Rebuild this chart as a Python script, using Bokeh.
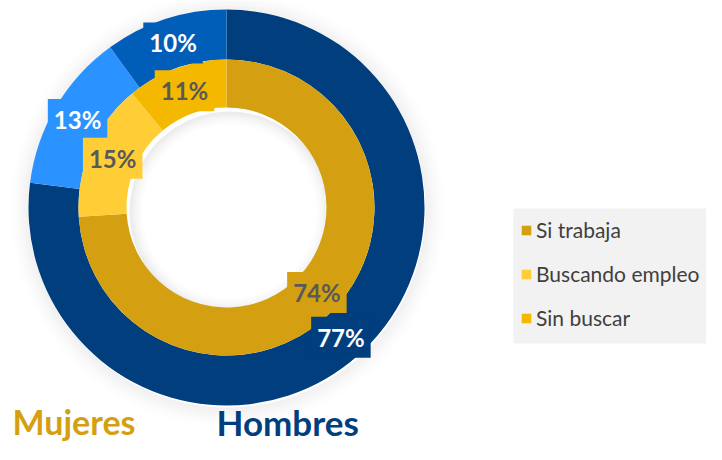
import math
from bokeh.plotting import figure
from bokeh.models import Range1d, Label, Legend, LegendItem, ColumnDataSource
from bokeh.embed import file_html
from bokeh.resources import INLINE

categories = ["Si trabaja", "Buscando empleo", "Sin buscar"]
mujeres = [74, 15, 11]
hombres = [77, 13, 10]
mujeres_colors = ["#D4A012", "#FFCD36", "#F5B800"]
hombres_colors = ["#003E7E", "#2A93FF", "#005EB8"]
mujeres_text = ["#595959", "#595959", "#595959"]
hombres_text = ["#FFFFFF", "#FFFFFF", "#FFFFFF"]

W, H = 706, 444
FONT = "Lato"

# data units = screen pixels (y measured upward from 460)
p = figure(width=W, height=H, output_backend="svg", toolbar_location=None,
           x_range=Range1d(0, 706), y_range=Range1d(16, 460),
           x_axis_location=None, y_axis_location=None, min_border=0)
p.outline_line_color = None
p.grid.visible = False
p.background_fill_color = "white"

cx, cy = 226, 460 - 207
R_out, R_mid, R_in = 198, 148, 100

# soft shadow around the donut
N = 12
for k in range(N):
    p.annulus(x=[cx + 1], y=[cy - 2], inner_radius=R_out + k * 1.8, outer_radius=R_out + (k + 1) * 1.8,
              fill_color="black", fill_alpha=0.06 * (1 - k / N) ** 1.5, line_color=None)
for k in range(8):
    p.annulus(x=[cx + 3], y=[cy - 4], inner_radius=R_in - (k + 1) * 1.8, outer_radius=R_in - k * 1.8,
              fill_color="black", fill_alpha=0.08 * (1 - k / 8) ** 1.5, line_color=None)


def ring(values, colors, r0, r1):
    total = float(sum(values))
    starts, ends, mids = [], [], []
    cum = 0.0
    for v in values:
        a0 = math.pi / 2 - 2 * math.pi * cum / total
        cum += v
        a1 = math.pi / 2 - 2 * math.pi * cum / total
        starts.append(a0)
        ends.append(a1)
        mids.append((a0 + a1) / 2)
    src = ColumnDataSource(dict(start=starts, end=ends, color=colors,
                                x=[cx] * len(values), y=[cy] * len(values)))
    r = p.annular_wedge(x="x", y="y", inner_radius=r0, outer_radius=r1,
                        start_angle="start", end_angle="end", direction="clock",
                        fill_color="color", line_color=None, source=src)
    return r, mids


r_h, mids_h = ring(hombres, hombres_colors, R_mid, R_out)
r_m, mids_m = ring(mujeres, mujeres_colors, R_in, R_mid)


def add_labels(values, colors, tcolors, mids, rr):
    for v, c, tc, a in zip(values, colors, tcolors, mids):
        x = cx + rr * math.cos(a)
        y = cy + rr * math.sin(a)
        for off, al in ((6, 0.04), (5, 0.06), (4, 0.08), (3, 0.10), (2, 0.10)):
            p.add_layout(Label(x=x + off, y=y - off, text=f"{v}%", text_align="center",
                               text_baseline="middle", text_font=FONT, text_font_style="bold",
                               text_font_size="24px", text_alpha=0.0,
                               background_fill_color="black", background_fill_alpha=al,
                               padding=6))
        p.add_layout(Label(x=x, y=y, text=f"{v}%", text_align="center", text_baseline="middle",
                           text_font=FONT, text_font_style="bold", text_font_size="24px",
                           text_color=tc, background_fill_color=c, background_fill_alpha=1.0,
                           padding=6))


add_labels(hombres, hombres_colors, hombres_text, mids_h, (R_mid + R_out) / 2)
add_labels(mujeres, mujeres_colors, mujeres_text, mids_m, (R_in + R_mid) / 2)

# legend panel background
p.quad(left=[513], right=[706], bottom=[460 - 343], top=[460 - 208],
       fill_color="#F2F2F2", line_color=None)

legend = Legend(items=[LegendItem(label=c, renderers=[r_m], index=i) for i, c in enumerate(categories)],
                location=(520, 114), orientation="vertical",
                glyph_width=12, glyph_height=12, label_height=22, spacing=19,
                padding=12, margin=0, label_standoff=4,
                label_text_font=FONT, label_text_font_size="21px", label_text_color="#404040",
                background_fill_alpha=0.0, border_line_color=None)
p.add_layout(legend)

p.add_layout(Label(x=12, y=460 - 421, text="Mujeres", text_font=FONT, text_font_style="bold",
                   text_font_size="34px", text_color="#D4A012", text_baseline="middle"))
p.add_layout(Label(x=216, y=460 - 421, text="Hombres", text_font=FONT, text_font_style="bold",
                   text_font_size="35px", text_color="#003E7E", text_baseline="middle"))

open("out.html", "w").write(file_html(p, INLINE))
